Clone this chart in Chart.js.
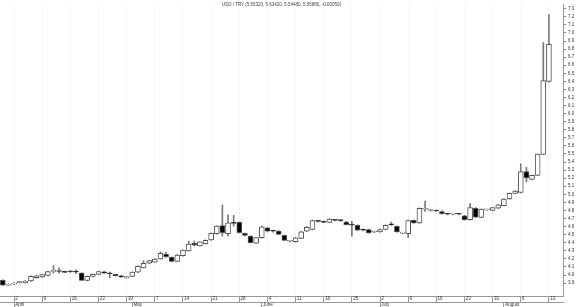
<!DOCTYPE html>
<html>
<head>
<meta charset="utf-8">
<script src="https://cdn.jsdelivr.net/npm/chart.js@4.4.0/dist/chart.umd.min.js"></script>
<style>
    html, body { margin: 0; padding: 0; background: #fff; }
</style>
</head>
<body>
<canvas id="myChart" width="580" height="307"></canvas>
<script>
// trading days (2018), last two are empty slots at the right edge
const days = [
    '03-29', '03-30',
    '04-02', '04-03', '04-04', '04-05', '04-06', '04-09', '04-10', '04-11', '04-12', '04-13',
    '04-16', '04-17', '04-18', '04-19', '04-20', '04-23', '04-24', '04-25', '04-26', '04-27', '04-30',
    '05-01', '05-02', '05-03', '05-04', '05-07', '05-08', '05-09', '05-10', '05-11',
    '05-14', '05-15', '05-16', '05-17', '05-18', '05-21', '05-22', '05-23', '05-24', '05-25',
    '05-28', '05-29', '05-30', '05-31',
    '06-01', '06-04', '06-05', '06-06', '06-07', '06-08', '06-11', '06-12', '06-13', '06-14', '06-15',
    '06-18', '06-19', '06-20', '06-21', '06-22', '06-25', '06-26', '06-27', '06-28', '06-29',
    '07-02', '07-03', '07-04', '07-05', '07-06', '07-09', '07-10', '07-11', '07-12', '07-13',
    '07-16', '07-17', '07-18', '07-19', '07-20', '07-23', '07-24', '07-25', '07-26', '07-27',
    '07-30', '07-31',
    '08-01', '08-02', '08-03', '08-06', '08-07', '08-08', '08-09', '08-10', '08-13',
    '08-14', '08-15'
];

const opens = [
    3.934, 3.875, 3.886, 3.902, 3.905, 3.926, 3.967, 3.975, 3.995, 4.045,
    4.056, 4.044, 4.044, 4.040, 4.024, 3.934, 3.983, 4.008, 4.040, 4.020,
    4.008, 3.991, 3.967, 3.983, 4.036, 4.089, 4.146, 4.158, 4.199, 4.260,
    4.219, 4.170, 4.239, 4.300, 4.394, 4.361, 4.390, 4.434, 4.512, 4.613,
    4.512, 4.646, 4.654, 4.516, 4.483, 4.394, 4.463, 4.585, 4.545, 4.543,
    4.491, 4.418, 4.413, 4.454, 4.543, 4.564, 4.668, 4.665, 4.653, 4.680,
    4.676, 4.657, 4.618, 4.617, 4.557, 4.564, 4.533, 4.535, 4.564, 4.625,
    4.604, 4.520, 4.511, 4.678, 4.645, 4.815, 4.800, 4.795, 4.787, 4.755,
    4.755, 4.757, 4.735, 4.686, 4.828, 4.714, 4.808, 4.800, 4.828, 4.860,
    4.942, 5.011, 5.023, 5.283, 5.186, 5.235, 5.495, 6.400
];
const highs = [
    3.940, 3.890, 3.905, 3.922, 3.930, 3.990, 3.995, 4.010, 4.050, 4.117,
    4.089, 4.050, 4.052, 4.065, 4.030, 3.988, 4.012, 4.050, 4.048, 4.036,
    4.012, 3.995, 3.985, 4.040, 4.115, 4.178, 4.182, 4.205, 4.288, 4.280,
    4.225, 4.252, 4.312, 4.422, 4.422, 4.415, 4.435, 4.520, 4.610, 4.870,
    4.747, 4.739, 4.660, 4.520, 4.487, 4.468, 4.605, 4.590, 4.555, 4.550,
    4.495, 4.430, 4.466, 4.540, 4.600, 4.680, 4.675, 4.672, 4.700, 4.685,
    4.685, 4.665, 4.665, 4.622, 4.565, 4.570, 4.545, 4.568, 4.622, 4.655,
    4.610, 4.530, 4.680, 4.685, 4.833, 4.917, 4.810, 4.805, 4.795, 4.765,
    4.765, 4.765, 4.740, 4.889, 4.835, 4.820, 4.815, 4.840, 4.875, 4.948,
    5.015, 5.045, 5.377, 5.336, 5.240, 5.500, 6.880, 7.227
];
const lows = [
    3.870, 3.870, 3.882, 3.898, 3.900, 3.922, 3.962, 3.970, 3.990, 4.024,
    4.024, 4.028, 4.032, 4.016, 3.930, 3.928, 3.978, 4.004, 4.020, 3.967,
    3.986, 3.970, 3.960, 3.978, 4.030, 4.085, 4.140, 4.155, 4.195, 4.219,
    4.165, 4.165, 4.235, 4.295, 4.362, 4.356, 4.385, 4.430, 4.505, 4.483,
    4.483, 4.605, 4.520, 4.485, 4.395, 4.390, 4.458, 4.535, 4.530, 4.500,
    4.425, 4.410, 4.408, 4.450, 4.538, 4.560, 4.655, 4.648, 4.648, 4.670,
    4.665, 4.620, 4.483, 4.550, 4.545, 4.518, 4.525, 4.530, 4.560, 4.615,
    4.530, 4.510, 4.462, 4.640, 4.640, 4.787, 4.790, 4.785, 4.755, 4.745,
    4.745, 4.745, 4.680, 4.680, 4.712, 4.710, 4.800, 4.795, 4.823, 4.855,
    4.937, 5.005, 5.018, 5.153, 5.180, 5.230, 5.490, 6.390
];
const closes = [
    3.874, 3.885, 3.900, 3.918, 3.926, 3.983, 3.991, 4.004, 4.044, 4.050,
    4.044, 4.032, 4.040, 4.036, 3.934, 3.983, 4.008, 4.044, 4.024, 4.016,
    3.991, 3.975, 3.980, 4.036, 4.109, 4.146, 4.178, 4.199, 4.268, 4.227,
    4.170, 4.247, 4.308, 4.382, 4.370, 4.410, 4.430, 4.516, 4.605, 4.524,
    4.646, 4.640, 4.524, 4.491, 4.402, 4.463, 4.597, 4.544, 4.543, 4.503,
    4.430, 4.421, 4.462, 4.535, 4.592, 4.674, 4.665, 4.653, 4.694, 4.678,
    4.674, 4.625, 4.617, 4.556, 4.556, 4.523, 4.535, 4.564, 4.617, 4.622,
    4.535, 4.523, 4.674, 4.645, 4.828, 4.818, 4.800, 4.793, 4.759, 4.753,
    4.757, 4.753, 4.686, 4.836, 4.718, 4.816, 4.810, 4.836, 4.869, 4.942,
    5.011, 5.040, 5.283, 5.202, 5.235, 5.499, 6.410, 6.860
];

const yTicks = [
    3.9, 4.0, 4.1, 4.2, 4.3, 4.4, 4.5, 4.6, 4.7, 4.8, 4.9, 5.0, 5.1, 5.2, 5.3, 5.4, 5.5,
    5.6, 5.7, 5.8, 5.9, 6.0, 6.1, 6.2, 6.3, 6.4, 6.5, 6.6, 6.7, 6.8, 6.9, 7.0, 7.1, 7.2, 7.3
];
const monthNames = ['January', 'February', 'March', 'April', 'May', 'June', 'July', 'August'];
const titleText = 'USD / TRY (5.55320, 5.63420, 5.54480, 5.55880, -0.00050)';

const FONT = 'Liberation Sans';

function dayDate(i) {
    const parts = days[i].split('-');
    return new Date(2018, Number(parts[0]) - 1, Number(parts[1]));
}
function isMonday(i) {
    return i < days.length && dayDate(i).getDay() === 1;
}
function isMonthStart(i) {
    return i > 0 && i < opens.length && dayDate(i).getMonth() !== dayDate(i - 1).getMonth();
}

const bodies = opens.map((o, i) => [Math.min(o, closes[i]), Math.max(o, closes[i])]);
const wicks = highs.map((h, i) => [lows[i], h]);
const bodyFill = opens.map((o, i) => (o > closes[i] ? '#000000' : '#ffffff'));

const topTitle = {
    id: 'topTitle',
    afterDraw(chart) {
        const ctx = chart.ctx;
        const area = chart.chartArea;
        ctx.save();
        ctx.font = '4.5px "' + FONT + '"';
        ctx.fillStyle = '#444';
        ctx.textAlign = 'center';
        ctx.textBaseline = 'middle';
        ctx.fillText(titleText, (area.left + area.right) / 2, 5);
        ctx.restore();
    }
};

const canvas = document.getElementById('myChart');
const ctx = canvas.getContext('2d');

const chart = new Chart(ctx, {
    type: 'bar',
    data: {
        labels: days,
        datasets: [
            {
                label: 'body',
                data: bodies,
                backgroundColor: bodyFill,
                borderColor: '#555',
                borderWidth: 1,
                borderSkipped: false,
                barThickness: 5,
                minBarLength: 1,
                grouped: false
            },
            {
                label: 'wick',
                data: wicks,
                backgroundColor: '#7a7a7a',
                borderWidth: 0,
                barThickness: 1,
                grouped: false
            }
        ]
    },
    options: {
        responsive: false,
        animation: false,
        layout: { padding: 0 },
        plugins: {
            legend: { display: false },
            tooltip: { enabled: false }
        },
        scales: {
            x: {
                type: 'category',
                offset: true,
                weight: 0,
                grid: {
                    offset: false,
                    drawOnChartArea: true,
                    drawTicks: true,
                    tickLength: 6,
                    lineWidth: 1,
                    color: (c) => (isMonday(c.index) ? '#dcdcdc' : 'rgba(0,0,0,0)'),
                    tickColor: (c) => (isMonday(c.index) ? '#999' : 'rgba(0,0,0,0)'),
                    tickBorderDash: []
                },
                border: { display: true, color: '#999', dash: [1, 3] },
                ticks: {
                    autoSkip: false,
                    maxRotation: 0,
                    minRotation: 0,
                    align: 'start',
                    padding: -6,
                    color: '#333',
                    font: { family: FONT, size: 4.5 },
                    callback: (v, i) => (isMonday(i) ? ' ' + dayDate(i).getDate() : '')
                },
                afterFit: (s) => { s.height = 6; }
            },
            x2: {
                type: 'category',
                position: 'bottom',
                offset: true,
                weight: 1,
                grid: {
                    offset: false,
                    drawOnChartArea: false,
                    drawTicks: true,
                    tickLength: 5,
                    tickColor: (c) => (isMonthStart(c.index) ? '#999' : 'rgba(0,0,0,0)')
                },
                border: { display: true, color: '#999' },
                ticks: {
                    autoSkip: false,
                    maxRotation: 0,
                    minRotation: 0,
                    align: 'start',
                    padding: -5,
                    color: '#333',
                    font: { family: FONT, size: 4.5 },
                    callback: (v, i) => (isMonthStart(i) ? ' ' + monthNames[dayDate(i).getMonth()] : '')
                },
                afterFit: (s) => { s.height = 5; }
            },
            y: {
                type: 'linear',
                position: 'right',
                min: 3.74,
                max: 7.35,
                grid: {
                    drawOnChartArea: false,
                    drawTicks: true,
                    tickLength: 3,
                    tickColor: '#888'
                },
                border: { display: true, color: '#999' },
                ticks: {
                    autoSkip: false,
                    padding: 2,
                    color: '#333',
                    font: { family: FONT, size: 4.5 },
                    callback: (v) => Number(v).toFixed(1)
                },
                afterBuildTicks: (s) => { s.ticks = yTicks.map((v) => ({ value: v })); },
                afterFit: (s) => { s.width = 17; }
            }
        }
    },
    plugins: [topTitle]
});
</script>
</body>
</html>
